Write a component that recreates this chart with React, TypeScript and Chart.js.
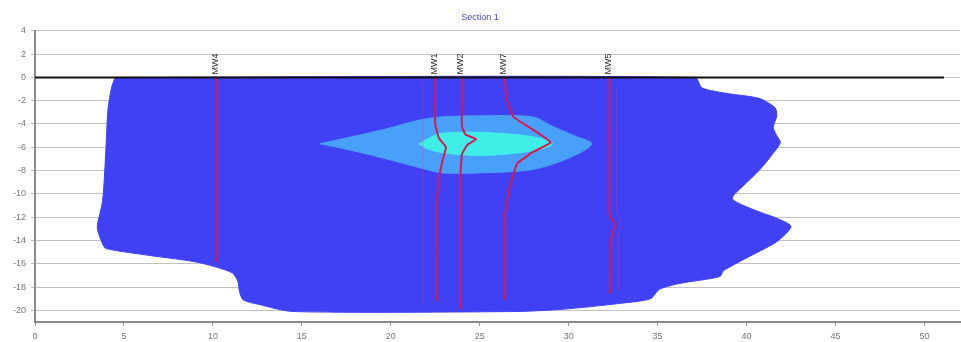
import { useEffect, useRef } from 'react';
import { Chart, registerables } from 'chart.js';

Chart.register(...registerables);

type Pt = [number, number];

const chartTitle = 'Section 1';
const xTickStep = 5;
const yTickStep = 2;
const xRange: Pt = [0, 52];
const yRange: Pt = [-21, 4];

// Outer (low concentration) zone
const blueZone: Pt[] = [
  [4.5, 0], [37.1, 0], [37.5, -0.9], [39.0, -1.4], [40.7, -1.8], [41.6, -2.6], [41.7, -3.3],
  [41.5, -4.3], [41.7, -5.0], [41.9, -5.6], [41.3, -6.9], [40.7, -8.0], [40.0, -9.05],
  [39.2, -10.4], [40.3, -11.3], [41.7, -12.1], [42.5, -12.8], [41.7, -14.1], [40.0, -15.5],
  [38.7, -16.6], [38.5, -17.1], [36.2, -17.7], [35.1, -18.2], [34.6, -19.0], [32.9, -19.4],
  [29.7, -19.9], [27.0, -20.1], [14.5, -20.1], [12.6, -19.5], [11.7, -19.1], [11.5, -18.4],
  [11.4, -17.5], [11.1, -16.8], [10.0, -16.2], [8.9, -15.8], [6.5, -15.3], [4.0, -14.7],
  [3.8, -14.3], [3.5, -12.9], [3.65, -11.7], [3.8, -10.6], [3.9, -8.6], [4.0, -5.7],
  [4.1, -2.8], [4.3, -0.9], [4.5, 0],
];

// Middle zone
const lightBlueZone: Pt[] = [
  [16.0, -5.7], [17.8, -5.1], [19.8, -4.4], [21.5, -3.7], [22.8, -3.4], [25.0, -3.3],
  [28.0, -3.4], [29.1, -4.2], [30.3, -5.0], [31.3, -5.7], [30.2, -6.8], [28.0, -7.9],
  [25.0, -8.2], [22.9, -8.2], [22.0, -7.9], [19.5, -6.9], [17.6, -6.2], [16.0, -5.7],
];

// Core zone
const cyanZone: Pt[] = [
  [21.6, -5.7], [22.3, -5.1], [22.9, -4.8], [24.6, -4.7], [26.1, -4.8], [28.0, -5.1],
  [29.1, -5.7], [28.0, -6.3], [25.2, -6.7], [23.1, -6.5], [22.0, -6.1], [21.6, -5.7],
];

const groundLine: Pt[] = [[0, 0], [51.1, 0]];

const wellNames = ['MW4', 'MW1', 'MW2', 'MW7', 'MW5'];
const wellMW4: Pt[] = [[10.2, 0], [10.2, -15.9]];
const wellMW1: Pt[] = [[22.5, 0], [22.5, -4.0], [22.7, -5.2], [23.1, -6.0], [22.9, -7.2], [22.7, -8.8], [22.6, -11.0], [22.6, -19.2]];
const wellMW2: Pt[] = [[24.0, 0], [24.0, -4.2], [24.2, -4.9], [24.8, -5.3], [24.3, -5.8], [24.0, -6.6], [23.9, -9.0], [23.9, -19.9]];
const wellMW7: Pt[] = [[26.4, 0], [26.5, -1.8], [26.9, -3.4], [27.7, -4.2], [28.6, -5.1], [29.0, -5.6], [28.0, -6.4], [27.1, -7.4], [26.7, -9.3], [26.4, -12.0], [26.4, -19.1]];
const wellMW5: Pt[] = [[32.3, 0], [32.3, -11.8], [32.6, -12.6], [32.4, -13.8], [32.3, -18.6]];
const wells: Pt[][] = [wellMW4, wellMW1, wellMW2, wellMW7, wellMW5];

const faintTraces: Pt[][] = [
  [[21.8, -0.5], [21.8, -19.4]],
  [[32.7, -1.0], [32.7, -11.5], [33.0, -12.4], [32.8, -13.5], [32.8, -18.2]],
];

const toXY = (pts: Pt[]) => pts.map(([x, y]) => ({ x, y }));

const wellLabelPlugin = {
  id: 'wellLabels',
  afterDraw(chart: any) {
    const { ctx, scales } = chart;
    const xs = scales.x;
    const ys = scales.y;
    ctx.save();
    ctx.font = '9px "Liberation Sans", Arial, sans-serif';
    ctx.fillStyle = '#333333';
    ctx.textAlign = 'left';
    ctx.textBaseline = 'middle';
    wellNames.forEach((name, i) => {
      const px = xs.getPixelForValue(wells[i][0][0]);
      const py = ys.getPixelForValue(0) - 3;
      ctx.save();
      ctx.translate(px - 1, py);
      ctx.rotate(-Math.PI / 2);
      ctx.fillText(name, 0, 0);
      ctx.restore();
    });
    ctx.restore();
  },
};

export default function App() {
  const canvasRef = useRef<HTMLCanvasElement | null>(null);

  useEffect(() => {
    if (!canvasRef.current) return;
    const zone = (pts: Pt[], color: string, order: number, tension: number) => ({
      data: toXY(pts),
      showLine: true,
      fill: 'shape',
      backgroundColor: color,
      borderColor: color,
      borderWidth: 1,
      pointRadius: 0,
      tension,
      order,
    });
    const line = (pts: Pt[], color: string, width: number, order: number) => ({
      data: toXY(pts),
      showLine: true,
      fill: false,
      borderColor: color,
      borderWidth: width,
      pointRadius: 0,
      tension: 0.1,
      order,
    });

    const chart = new Chart(canvasRef.current, {
      type: 'scatter',
      data: {
        datasets: [
          zone(blueZone, 'rgb(64,64,244)', 20, 0.25),
          zone(lightBlueZone, 'rgb(72,160,250)', 19, 0.3),
          zone(cyanZone, 'rgb(64,238,232)', 18, 0.35),
          ...faintTraces.map((t) => line(t, 'rgba(230,60,140,0.35)', 1, 10)),
          ...wells.map((w) => line(w, 'rgb(214,26,86)', 2, 5)),
          line(groundLine, '#111111', 2, 1),
        ] as any,
      },
      options: {
        responsive: false,
        animation: false,
        devicePixelRatio: 1,
        layout: { padding: { left: 0, right: 1, top: 0, bottom: 0 } },
        plugins: {
          legend: { display: false },
          tooltip: { enabled: false },
          title: {
            display: true,
            text: chartTitle,
            color: '#4a4ac8',
            font: { family: '"Liberation Sans", Arial, sans-serif', size: 9, weight: 'normal' },
            padding: { top: 12, bottom: 8 },
          },
        },
        scales: {
          x: {
            type: 'linear',
            min: xRange[0],
            max: xRange[1],
            afterFit: (axis: any) => { axis.height = 20; },
            ticks: {
              stepSize: xTickStep,
              includeBounds: false,
              color: '#777777',
              padding: 5,
              font: { family: '"Liberation Sans", Arial, sans-serif', size: 9 },
              maxRotation: 0,
            },
            grid: { drawOnChartArea: false, drawTicks: true, tickLength: 4, color: '#9a9a9a' },
            border: { display: true, color: '#8a8a8a', width: 2 },
          },
          y: {
            type: 'linear',
            min: yRange[0],
            max: yRange[1],
            z: 1,
            afterFit: (axis: any) => { axis.width = 35; },
            ticks: {
              stepSize: yTickStep,
              includeBounds: false,
              color: '#777777',
              padding: 5,
              font: { family: '"Liberation Sans", Arial, sans-serif', size: 9 },
            },
            grid: { color: 'rgba(0,0,0,0.24)', lineWidth: 1, tickLength: 4 },
            border: { display: true, color: '#8a8a8a', width: 2 },
          },
        },
      },
      plugins: [wellLabelPlugin],
    } as any);
    return () => chart.destroy();
  }, []);

  return (
    <div style={{ position: 'absolute', left: 0, top: 0, width: 961, height: 342, background: '#ffffff' }}>
      <canvas ref={canvasRef} width={961} height={342} />
    </div>
  );
}
